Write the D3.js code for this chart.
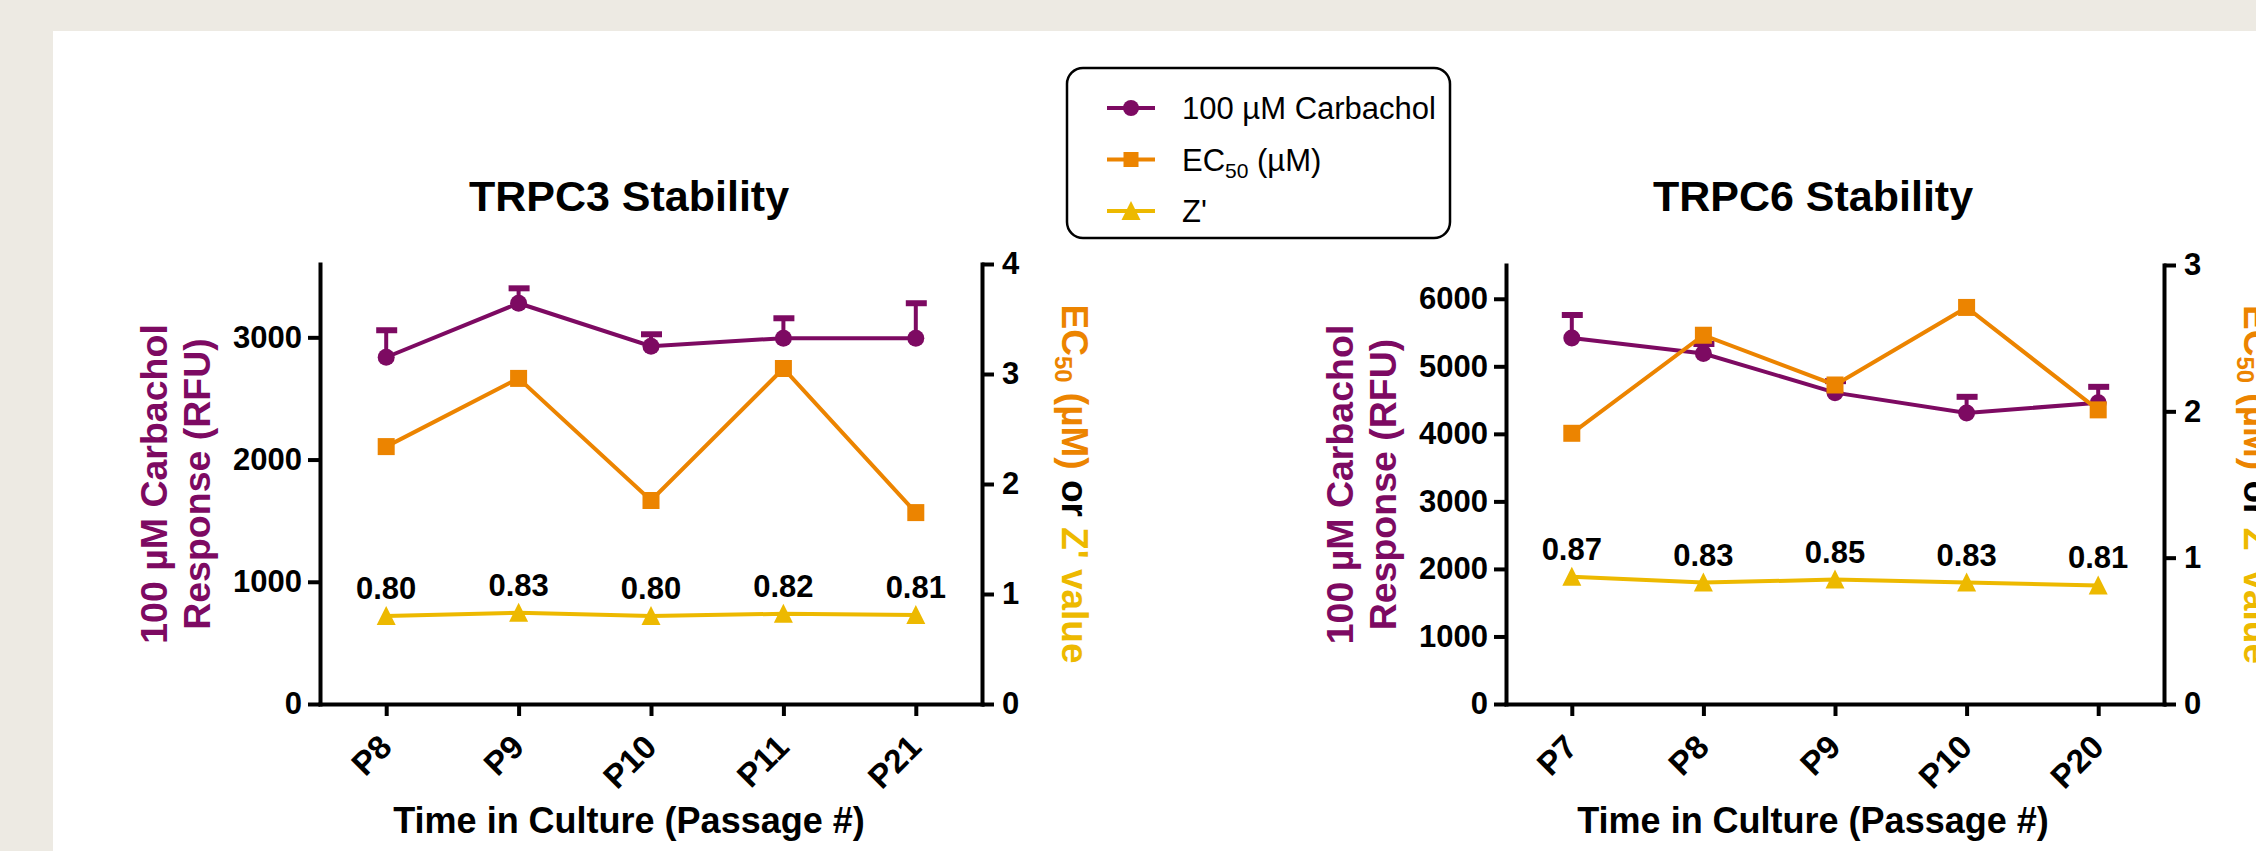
<!DOCTYPE html>
<html>
<head>
<meta charset="utf-8">
<script src="https://cdn.jsdelivr.net/npm/d3@7"></script>
<style>
html, body { margin: 0; padding: 0; background: #edeae3; }
svg { display: block; }
text { font-family: Arial, "Liberation Sans", sans-serif; }
</style>
</head>
<body>
<div id="chart"></div>
<script>
// TRPC3 panel data
const trpc3Passages = ["P8", "P9", "P10", "P11", "P21"];
const trpc3Carbachol = [2837, 3279, 2927, 2993, 2993];
const trpc3CarbacholErr = [221, 122, 98, 163, 286];
const trpc3EC50 = [2.34, 2.96, 1.85, 3.05, 1.74];
const trpc3Z = [0.80, 0.83, 0.80, 0.82, 0.81];
const trpc3LeftTicks = [0, 1000, 2000, 3000];
const trpc3RightTicks = [0, 1, 2, 3, 4];

// TRPC6 panel data
const trpc6Passages = ["P7", "P8", "P9", "P10", "P20"];
const trpc6Carbachol = [5420, 5190, 4610, 4310, 4460];
const trpc6CarbacholErr = [340, 140, 170, 238, 236];
const trpc6EC50 = [1.85, 2.52, 2.18, 2.71, 2.01];
const trpc6Z = [0.87, 0.83, 0.85, 0.83, 0.81];
const trpc6LeftTicks = [0, 1000, 2000, 3000, 4000, 5000, 6000];
const trpc6RightTicks = [0, 1, 2, 3];

const legendLabels = ["100 µM Carbachol", "EC50 (µM)", "Z'"];

const purple = "#7d0a62";
const orange = "#ec8400";
const yellow = "#edb900";

const width = 2256;
const height = 851;
const bottom = 704;

const svg = d3.select("#chart")
    .append("svg")
    .attr("width", width)
    .attr("height", height);

// white card
svg.append("rect")
    .attr("x", 53).attr("y", 31)
    .attr("width", width - 53).attr("height", height - 31)
    .attr("fill", "#fff");

const fmt = d3.format(".2f");
const intFmt = d3.format("d");

function styleAxis(g) {
    g.attr("font-family", null).attr("font-size", null);
    g.select(".domain").attr("stroke-width", 4).attr("stroke-linecap", "square");
    g.selectAll(".tick line").attr("stroke-width", 4);
    g.selectAll(".tick text")
        .style("font-size", "31px")
        .style("font-weight", "bold")
        .attr("fill", "#000");
}

function triangle(cx, cy) {
    return `M${cx - 9.5},${cy + 9}L${cx + 9.5},${cy + 9}L${cx},${cy - 10}Z`;
}

function drawPanel(p) {
    const x = d3.scalePoint().domain(p.passages).range([p.left, p.right]).padding(0.5);
    const yL = d3.scaleLinear().domain([0, p.leftMax]).range([bottom, p.top]);
    const yR = d3.scaleLinear().domain([0, p.rightMax]).range([bottom, p.top]);
    const mid = (p.left + p.right) / 2 - 22;
    const g = svg.append("g");

    // title
    g.append("text")
        .attr("x", mid).attr("y", 211)
        .attr("text-anchor", "middle")
        .style("font-size", "43px").style("font-weight", "bold")
        .text(p.title);

    // axes
    g.append("g")
        .attr("transform", `translate(${p.left},0)`)
        .call(d3.axisLeft(yL).tickValues(p.leftTicks).tickFormat(intFmt)
            .tickSize(12).tickSizeOuter(0).tickPadding(6))
        .call(styleAxis);

    g.append("g")
        .attr("transform", `translate(${p.right},0)`)
        .call(d3.axisRight(yR).tickValues(p.rightTicks).tickFormat(intFmt)
            .tickSize(12).tickSizeOuter(0).tickPadding(8))
        .call(styleAxis);

    const xa = g.append("g")
        .attr("transform", `translate(0,${bottom})`)
        .call(d3.axisBottom(x).tickSize(12).tickSizeOuter(0))
        .call(styleAxis);
    xa.selectAll(".tick text")
        .attr("x", 0).attr("y", 0).attr("dy", 0)
        .attr("text-anchor", "end")
        .style("font-size", "33px")
        .attr("transform", "translate(7,45) rotate(-45)");

    // axis titles
    g.append("text")
        .attr("x", mid).attr("y", 833)
        .attr("text-anchor", "middle")
        .style("font-size", "36px").style("font-weight", "bold")
        .text("Time in Culture (Passage #)");

    const ymid = (bottom + p.top) / 2;
    const lt = g.append("text")
        .attr("transform", `translate(${p.left - 153},${ymid}) rotate(-90)`)
        .attr("text-anchor", "middle")
        .attr("fill", purple)
        .style("font-size", "37.5px").style("font-weight", "bold");
    lt.append("tspan").attr("x", 0).attr("y", 0).text("100 µM Carbachol");
    lt.append("tspan").attr("x", 0).attr("y", 43).text("Response (RFU)");

    const rt = g.append("text")
        .attr("transform", `translate(${p.right + 80},${ymid}) rotate(90)`)
        .attr("text-anchor", "middle")
        .style("font-size", "37px").style("font-weight", "bold");
    rt.append("tspan").attr("fill", orange).text("EC");
    rt.append("tspan").attr("fill", orange).attr("dy", 7).style("font-size", "24px").text("50");
    rt.append("tspan").attr("fill", orange).attr("dy", -7).text(" (µM) ");
    rt.append("tspan").attr("fill", "#000").text("or ");
    rt.append("tspan").attr("fill", yellow).text("Z' value");

    const idx = d3.range(p.passages.length);

    // Z' series
    g.append("path")
        .attr("fill", "none").attr("stroke", yellow).attr("stroke-width", 4)
        .attr("d", d3.line().x(i => x(p.passages[i])).y(i => yR(p.z[i]))(idx));
    g.selectAll(null).data(idx).join("path")
        .attr("fill", yellow)
        .attr("d", i => triangle(x(p.passages[i]), yR(p.z[i])));
    g.selectAll(null).data(idx).join("text")
        .attr("x", i => x(p.passages[i]))
        .attr("y", i => yR(p.z[i]) - 17)
        .attr("text-anchor", "middle")
        .style("font-size", "31px").style("font-weight", "bold")
        .text(i => fmt(p.z[i]));

    // carbachol series
    g.append("path")
        .attr("fill", "none").attr("stroke", purple).attr("stroke-width", 4)
        .attr("d", d3.line().x(i => x(p.passages[i])).y(i => yL(p.carbachol[i]))(idx));
    g.selectAll(null).data(idx).join("line")
        .attr("stroke", purple).attr("stroke-width", 4)
        .attr("x1", i => x(p.passages[i])).attr("x2", i => x(p.passages[i]))
        .attr("y1", i => yL(p.carbachol[i]))
        .attr("y2", i => yL(p.carbachol[i] + p.err[i]));
    g.selectAll(null).data(idx).join("line")
        .attr("stroke", purple).attr("stroke-width", 6)
        .attr("x1", i => x(p.passages[i]) - 10).attr("x2", i => x(p.passages[i]) + 11)
        .attr("y1", i => yL(p.carbachol[i] + p.err[i]))
        .attr("y2", i => yL(p.carbachol[i] + p.err[i]));
    g.selectAll(null).data(idx).join("circle")
        .attr("fill", purple).attr("r", 8.5)
        .attr("cx", i => x(p.passages[i]))
        .attr("cy", i => yL(p.carbachol[i]));

    // EC50 series
    g.append("path")
        .attr("fill", "none").attr("stroke", orange).attr("stroke-width", 4)
        .attr("d", d3.line().x(i => x(p.passages[i])).y(i => yR(p.ec50[i]))(idx));
    g.selectAll(null).data(idx).join("rect")
        .attr("fill", orange)
        .attr("width", 17).attr("height", 17)
        .attr("x", i => x(p.passages[i]) - 8.5)
        .attr("y", i => yR(p.ec50[i]) - 8.5);
}

drawPanel({
    title: "TRPC3 Stability",
    passages: trpc3Passages, carbachol: trpc3Carbachol, err: trpc3CarbacholErr,
    ec50: trpc3EC50, z: trpc3Z,
    leftTicks: trpc3LeftTicks, rightTicks: trpc3RightTicks,
    leftMax: 3600, rightMax: 4,
    left: 320, right: 982, top: 264
});

drawPanel({
    title: "TRPC6 Stability",
    passages: trpc6Passages, carbachol: trpc6Carbachol, err: trpc6CarbacholErr,
    ec50: trpc6EC50, z: trpc6Z,
    leftTicks: trpc6LeftTicks, rightTicks: trpc6RightTicks,
    leftMax: 6500, rightMax: 3,
    left: 1506, right: 2164, top: 265
});

// legend
const legend = svg.append("g");
legend.append("rect")
    .attr("x", 1067).attr("y", 68).attr("width", 383).attr("height", 170)
    .attr("rx", 16)
    .attr("fill", "#fff").attr("stroke", "#000").attr("stroke-width", 2.5);

const rowY = d3.scalePoint().domain(legendLabels).range([108, 211]);
const rowColor = d3.scaleOrdinal().domain(legendLabels).range([purple, orange, yellow]);

legendLabels.forEach((lab, i) => {
    const cy = rowY(lab);
    legend.append("line")
        .attr("x1", 1107).attr("x2", 1155).attr("y1", cy).attr("y2", cy)
        .attr("stroke", rowColor(lab)).attr("stroke-width", 4);
    if (i === 0) {
        legend.append("circle").attr("cx", 1131).attr("cy", cy).attr("r", 8).attr("fill", purple);
    } else if (i === 1) {
        legend.append("rect").attr("x", 1123.5).attr("y", cy - 7.5).attr("width", 15).attr("height", 15).attr("fill", orange);
    } else {
        legend.append("path").attr("d", triangle(1131, cy)).attr("fill", yellow);
    }
    const t = legend.append("text")
        .attr("x", 1182).attr("y", cy + 11)
        .style("font-size", "31px");
    if (i === 1) {
        t.append("tspan").text("EC");
        t.append("tspan").attr("dy", 7).style("font-size", "21px").text("50");
        t.append("tspan").attr("dy", -7).text(" (µM)");
    } else {
        t.text(lab);
    }
});
</script>
</body>
</html>
